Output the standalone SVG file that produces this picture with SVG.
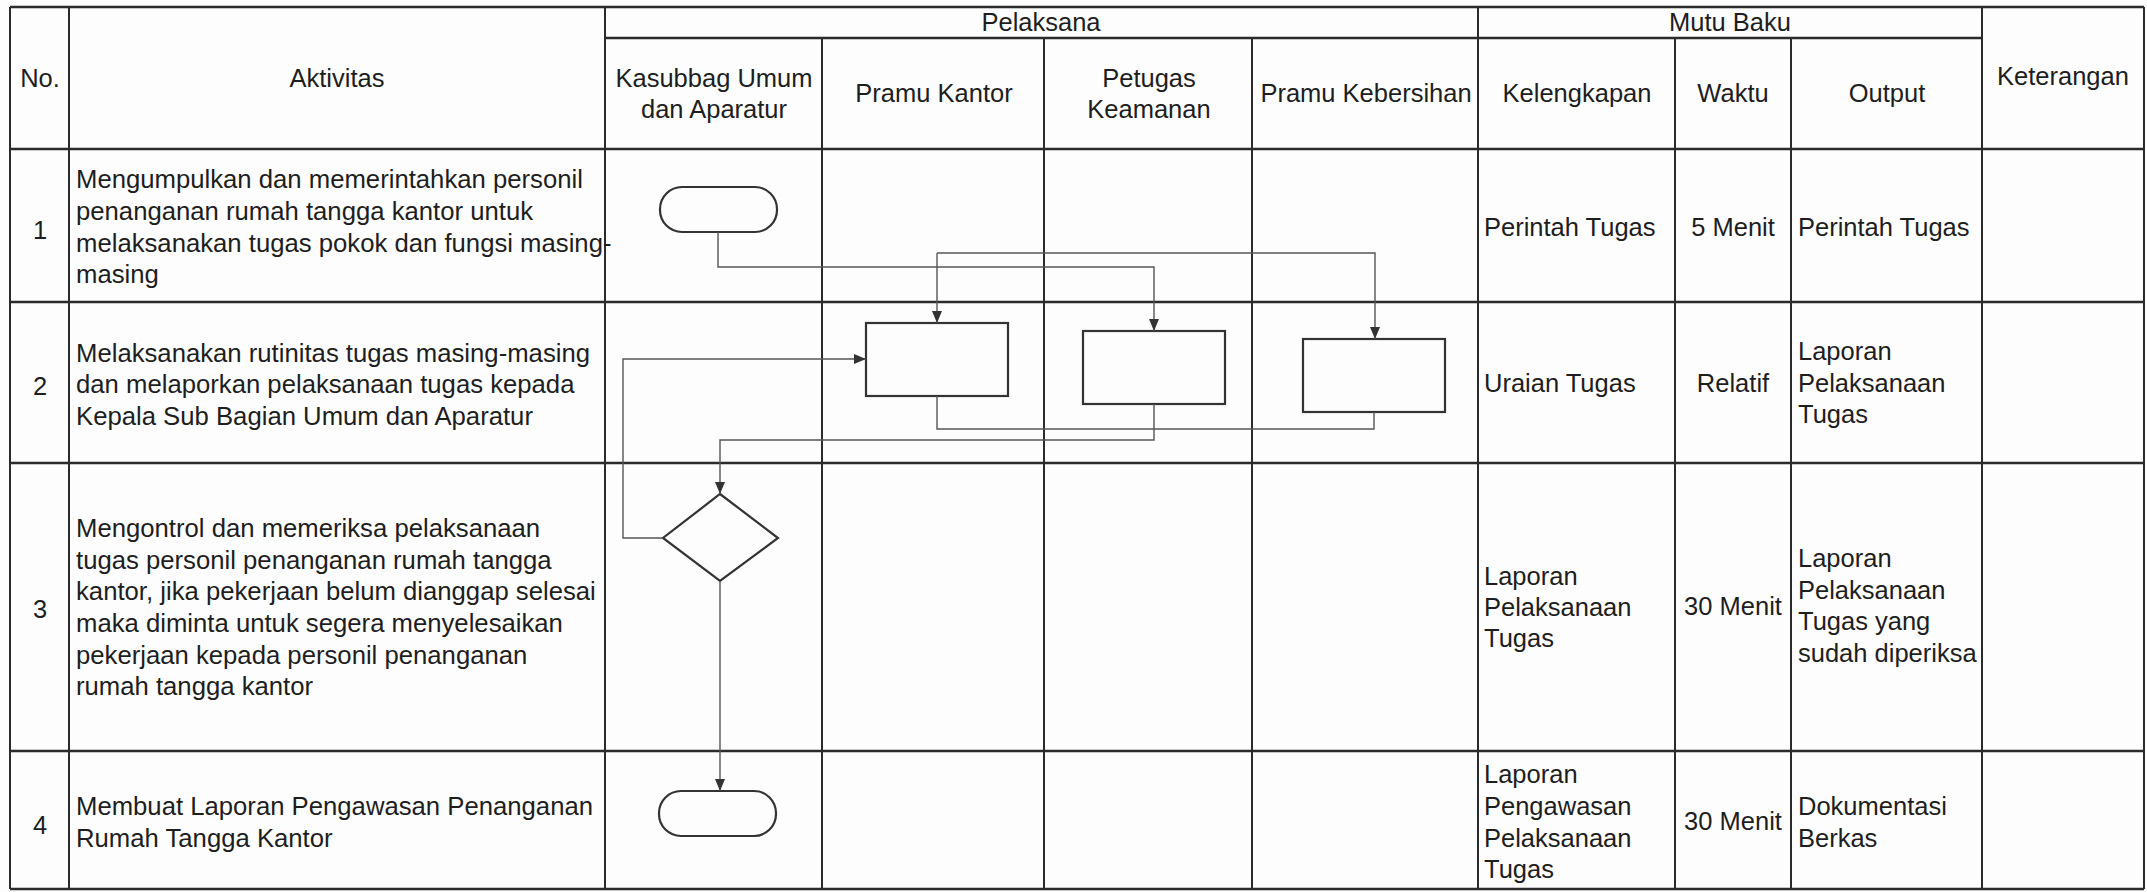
<svg xmlns="http://www.w3.org/2000/svg" width="2147" height="892" viewBox="0 0 2147 892">
<style>
.t{font-family:"Liberation Sans",Arial,sans-serif;font-size:25.5px;fill:#1e1e1e}
.a{font-size:25.7px}
.c{text-anchor:middle}
.grid line{stroke:#2b2b2b;stroke-width:2}
.grid .h{stroke-width:2.4}
.shape{fill:none;stroke:#333;stroke-width:2.2}
.conn path{fill:none;stroke:#555;stroke-width:1.4}
</style>
<defs>
<marker id="arr" viewBox="0 0 12 10" refX="12" refY="5" markerWidth="12" markerHeight="10" markerUnits="userSpaceOnUse" orient="auto">
<path d="M0,0 L12,5 L0,10 z" fill="#333"/>
</marker>
</defs>
<rect x="0" y="0" width="2147" height="892" fill="#fdfdfd"/>
<g id="table" class="grid">
<line class="h" x1="10" y1="7" x2="2144" y2="7"/>
<line class="h" x1="605" y1="38" x2="1982" y2="38"/>
<line class="h" x1="10" y1="149" x2="2144" y2="149"/>
<line class="h" x1="10" y1="302" x2="2144" y2="302"/>
<line class="h" x1="10" y1="463" x2="2144" y2="463"/>
<line class="h" x1="10" y1="751" x2="2144" y2="751"/>
<line class="h" x1="10" y1="889" x2="2144" y2="889"/>
<line x1="10" y1="7" x2="10" y2="889"/>
<line x1="69" y1="7" x2="69" y2="889"/>
<line x1="605" y1="7" x2="605" y2="889"/>
<line x1="822" y1="38" x2="822" y2="889"/>
<line x1="1044" y1="38" x2="1044" y2="889"/>
<line x1="1252" y1="38" x2="1252" y2="889"/>
<line x1="1478" y1="7" x2="1478" y2="889"/>
<line x1="1675" y1="38" x2="1675" y2="889"/>
<line x1="1791" y1="38" x2="1791" y2="889"/>
<line x1="1982" y1="7" x2="1982" y2="889"/>
<line x1="2144" y1="7" x2="2144" y2="889"/>
</g>
<g id="header" class="t">
<text class="c" x="40" y="87">No.</text>
<text class="c" x="337" y="87">Aktivitas</text>
<text class="c" x="1041" y="31">Pelaksana</text>
<text class="c" x="1730" y="31">Mutu Baku</text>
<text class="c" x="2063" y="85">Keterangan</text>
<text class="c" x="714" y="87">Kasubbag Umum</text>
<text class="c" x="714" y="118">dan Aparatur</text>
<text class="c" x="934" y="102">Pramu Kantor</text>
<text class="c" x="1149" y="87">Petugas</text>
<text class="c" x="1149" y="118">Keamanan</text>
<text class="c" x="1366" y="102">Pramu Kebersihan</text>
<text class="c" x="1577" y="102">Kelengkapan</text>
<text class="c" x="1733" y="102">Waktu</text>
<text class="c" x="1887" y="102">Output</text>
</g>
<g id="row1" class="t">
<text class="c" x="40" y="239">1</text>
<text class="a" x="76" y="188">Mengumpulkan dan memerintahkan personil</text>
<text class="a" x="76" y="220">penanganan rumah tangga kantor untuk</text>
<text class="a" x="76" y="252">melaksanakan tugas pokok dan fungsi masing-</text>
<text class="a" x="76" y="283">masing</text>
<text x="1484" y="236">Perintah Tugas</text>
<text class="c" x="1733" y="236">5 Menit</text>
<text x="1798" y="236">Perintah Tugas</text>
</g>
<g id="row2" class="t">
<text class="c" x="40" y="395">2</text>
<text class="a" x="76" y="362">Melaksanakan rutinitas tugas masing-masing</text>
<text class="a" x="76" y="393">dan melaporkan pelaksanaan tugas kepada</text>
<text class="a" x="76" y="425">Kepala Sub Bagian Umum dan Aparatur</text>
<text x="1484" y="392">Uraian Tugas</text>
<text class="c" x="1733" y="392">Relatif</text>
<text x="1798" y="360">Laporan</text>
<text x="1798" y="392">Pelaksanaan</text>
<text x="1798" y="423">Tugas</text>
</g>
<g id="row3" class="t">
<text class="c" x="40" y="618">3</text>
<text class="a" x="76" y="537">Mengontrol dan memeriksa pelaksanaan</text>
<text class="a" x="76" y="569">tugas personil penanganan rumah tangga</text>
<text class="a" x="76" y="600">kantor, jika pekerjaan belum dianggap selesai</text>
<text class="a" x="76" y="632">maka diminta untuk segera menyelesaikan</text>
<text class="a" x="76" y="664">pekerjaan kepada personil penanganan</text>
<text class="a" x="76" y="695">rumah tangga kantor</text>
<text x="1484" y="585">Laporan</text>
<text x="1484" y="616">Pelaksanaan</text>
<text x="1484" y="647">Tugas</text>
<text class="c" x="1733" y="615">30 Menit</text>
<text x="1798" y="567">Laporan</text>
<text x="1798" y="599">Pelaksanaan</text>
<text x="1798" y="630">Tugas yang</text>
<text x="1798" y="662">sudah diperiksa</text>
</g>
<g id="row4" class="t">
<text class="c" x="40" y="834">4</text>
<text class="a" x="76" y="815">Membuat Laporan Pengawasan Penanganan</text>
<text class="a" x="76" y="847">Rumah Tangga Kantor</text>
<text x="1484" y="783">Laporan</text>
<text x="1484" y="815">Pengawasan</text>
<text x="1484" y="847">Pelaksanaan</text>
<text x="1484" y="878">Tugas</text>
<text class="c" x="1733" y="830">30 Menit</text>
<text x="1798" y="815">Dokumentasi</text>
<text x="1798" y="847">Berkas</text>
</g>
<g id="start" class="shape"><rect x="660" y="187" width="117" height="45" rx="22" ry="22"/></g>
<g id="taskPramuKantor" class="shape"><rect x="866" y="323" width="142" height="73"/></g>
<g id="taskPetugas" class="shape"><rect x="1083" y="331" width="142" height="73"/></g>
<g id="taskKebersihan" class="shape"><rect x="1303" y="339" width="142" height="73"/></g>
<g id="decision" class="shape"><polygon points="720,494 778,538 720,581 663,538"/></g>
<g id="end" class="shape"><rect x="659" y="791" width="117" height="45" rx="22" ry="22"/></g>
<g id="connectors" class="conn">
<path d="M718 232 V267 H1154 V331" marker-end="url(#arr)"/>
<path d="M937 253 H1375 V339" marker-end="url(#arr)"/>
<path d="M937 253 V323" marker-end="url(#arr)"/>
<path d="M937 396 V429 H1374 V412"/>
<path d="M1154 404 V440 H720 V494" marker-end="url(#arr)"/>
<path d="M663 538 H623 V359 H866" marker-end="url(#arr)"/>
<path d="M720 581 V791" marker-end="url(#arr)"/>
</g>
</svg>
